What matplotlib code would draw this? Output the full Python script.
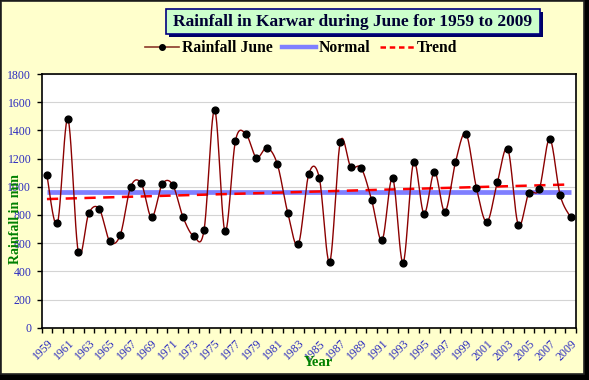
import numpy as np
import matplotlib
matplotlib.use("Agg")
import matplotlib.pyplot as plt
from matplotlib.patches import Rectangle
from matplotlib.lines import Line2D

# ---------------- data ----------------
years = list(range(1959, 2010))
rainfall_june = [1080, 740, 1480, 535, 812, 842, 613, 658, 1000, 1024,
                 783, 1017, 1015, 783, 650, 693, 1547, 684, 1327, 1374,
                 1206, 1277, 1159, 812, 591, 1090, 1064, 466, 1315, 1142,
                 1133, 906, 622, 1062, 461, 1173, 809, 1105, 823, 1173,
                 1377, 993, 750, 1031, 1268, 729, 953, 982, 1339, 939, 783]
y_ticks = [0, 200, 400, 600, 800, 1000, 1200, 1400, 1600, 1800]
title = "Rainfall in Karwar during June for 1959 to 2009"
series_names = ["Rainfall June", "Normal", "Trend"]

# ---------------- derived ----------------
idx = np.arange(len(years))
vals = np.array(rainfall_june, dtype=float)
normal = np.full(len(years), vals.mean())
slope, intercept = np.polyfit(idx, vals, 1)
trend = intercept + slope * idx


def smooth(x, y, n=24):
    pts = np.column_stack([x, y]).astype(float)
    P = np.vstack([pts[0], pts, pts[-1]])
    out = []
    t = np.linspace(0, 1, n, endpoint=False)[:, None]
    for i in range(1, len(P) - 2):
        p0, p1, p2, p3 = P[i - 1], P[i], P[i + 1], P[i + 2]
        c1 = p1 + (p2 - p0) / 6.0
        c2 = p2 - (p3 - p1) / 6.0
        seg = ((1 - t) ** 3) * p1 + 3 * ((1 - t) ** 2) * t * c1 + 3 * (1 - t) * t ** 2 * c2 + t ** 3 * p2
        out.append(seg)
    out.append(pts[-1:])
    s = np.vstack(out)
    return s[:, 0], s[:, 1]


W, H = 589, 380
fig = plt.figure(figsize=(W / 100, H / 100), dpi=100)
fig.patch.set_facecolor("black")


def fx(x):
    return x / W


def fy(y):
    return 1 - y / H


# yellow chart area with dark frame (shadow at right/bottom)
fig.patches.append(Rectangle((fx(1), fy(374)), fx(583), 373 / H, transform=fig.transFigure,
                             facecolor="#FFFFCC", edgecolor="#222222", linewidth=1.2, zorder=0))

serif = ["Liberation Serif", "DejaVu Serif"]

ax = fig.add_axes([fx(41.7), fy(327.7), fx(575.9) - fx(41.7), fy(74) - fy(327.7)])
ax.set_zorder(5)
ax.set_facecolor("white")

sx, sy = smooth(idx, vals)
ax.plot(idx, normal, color="#7F7FFF", linewidth=3.4, solid_capstyle="butt", zorder=2)
ax.plot(idx, trend, color="#FF0000", linewidth=1.8, linestyle=(0, (4.5, 3)), zorder=3)
ax.plot(sx, sy, color="#8B0000", linewidth=1.0, zorder=4)
ax.plot(idx, vals, linestyle="none", marker="o", markersize=4.9, color="black", zorder=5)

ax.set_xlim(-0.5, len(years) - 0.5)
ax.set_ylim(0, 1800)
ax.set_yticks(y_ticks)
ax.set_yticklabels([str(v) for v in y_ticks], fontfamily=serif, fontsize=8.5, color="#2B2BBF")
ax.yaxis.grid(True, color="#D4D4D4", linewidth=0.8)
ax.set_axisbelow(True)

ax.set_xticks(idx[::2])
ax.set_xticklabels([str(y) for y in years[::2]], rotation=45, ha="right", va="top",
                   rotation_mode="anchor", fontfamily=serif, fontsize=8.5, color="#2B2BBF")
ax.set_xticks(np.arange(-0.5, len(years), 1.0), minor=True)
ax.tick_params(axis="x", which="major", length=0, pad=7)
ax.tick_params(axis="x", which="minor", length=3.5, width=1, direction="out", color="black")
ax.tick_params(axis="y", which="major", length=3.5, width=1, direction="out", pad=4)
for sp in ax.spines.values():
    sp.set_color("black")
    sp.set_linewidth(1.2)

# axis titles
fig.text(fx(318), fy(363), "Year", ha="center", va="center", fontfamily=serif,
         fontsize=10.5, fontweight="bold", color="#008000", zorder=6)
fig.text(fx(16), fy(219), "Rainfall in mm", ha="center", va="center", rotation=90,
         fontfamily=serif, fontsize=10, fontweight="bold", color="#008000", zorder=6)

# title box with shadow
bx0, bx1, by0, by1 = 166, 540, 9, 34
fig.patches.append(Rectangle((fx(bx0 + 3), fy(by1 + 3)), fx(bx1 - bx0), (by1 - by0) / H,
                             transform=fig.transFigure, facecolor="#000066", edgecolor="none", zorder=1))
fig.patches.append(Rectangle((fx(bx0), fy(by1)), fx(bx1 - bx0), (by1 - by0) / H,
                             transform=fig.transFigure, facecolor="#CCFFCC", edgecolor="#000080",
                             linewidth=1.2, zorder=2))
fig.text(fx((bx0 + bx1) / 2), fy(21.5), title, ha="center", va="center", fontfamily=serif,
         fontsize=12.5, fontweight="bold", color="#000033", zorder=3)

# legend
handles = [
    Line2D([], [], color="#8B3A2A", linewidth=1.2, marker="o", markersize=4, markerfacecolor="black",
           markeredgecolor="black"),
    Line2D([], [], color="#7F7FFF", linewidth=3.2),
    Line2D([], [], color="#FF0000", linewidth=1.8, linestyle=(0, (2.2, 1.5))),
]
leg = fig.legend(handles, series_names, loc="center", bbox_to_anchor=(fx(301), fy(48)), ncol=3,
                 frameon=False, handlelength=2.2, handletextpad=0.15, columnspacing=0.6,
                 prop={"family": serif, "weight": "bold", "size": 11.3})
leg.set_zorder(6)

fig.savefig("out.png", dpi=100, facecolor=fig.get_facecolor())
